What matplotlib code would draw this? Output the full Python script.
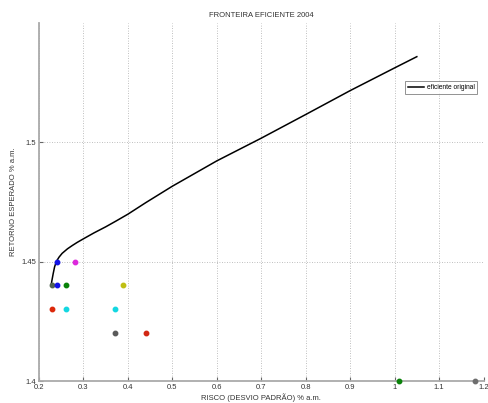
"""Fronteira eficiente 2004 — recreated chart."""
import matplotlib
matplotlib.use("Agg")
from matplotlib import pyplot as plt

# efficient frontier (risk, expected return)
frontier_risk = [0.227, 0.229, 0.232, 0.235, 0.239, 0.245, 0.252, 0.264, 0.275, 0.286,
                 0.300, 0.324, 0.350, 0.373, 0.400, 0.440, 0.500, 0.600, 0.700, 0.800,
                 0.900, 1.000, 1.050]
frontier_ret = [1.4397, 1.4420, 1.4450, 1.4477, 1.4500, 1.4518, 1.4534, 1.4553, 1.4567, 1.4580,
                1.4595, 1.4620, 1.4645, 1.4669, 1.4698, 1.4746, 1.4815, 1.4921, 1.5016, 1.5115,
                1.5215, 1.5310, 1.5357]

# individual assets
asset_risk = [0.24, 0.28, 0.23, 0.24, 0.26, 0.39, 0.23, 0.26, 0.37, 0.37, 0.44, 1.01, 1.18]
asset_ret = [1.45, 1.45, 1.44, 1.44, 1.44, 1.44, 1.43, 1.43, 1.43, 1.42, 1.42, 1.40, 1.40]
asset_colors = ["#1414e6", "#dc28dc", "#506450", "#1414e6", "#0a820a", "#bfbf14",
                "#dc280a", "#14d7e1", "#14d7e1", "#5a5a5a", "#d22814", "#0a820a", "#6e6e6e"]

x_ticks = [0.2, 0.3, 0.4, 0.5, 0.6, 0.7, 0.8, 0.9, 1.0, 1.1, 1.2]
x_labels = ["0.2", "0.3", "0.4", "0.5", "0.6", "0.7", "0.8", "0.9", "1", "1.1", "1.2"]
y_ticks = [1.4, 1.45, 1.5]
y_labels = ["1.4", "1.45", "1.5"]

plt.rcParams["font.family"] = ["Liberation Sans", "DejaVu Sans"]
fig = plt.figure(figsize=(4.88, 4.03), dpi=100)
ax = fig.add_axes([39 / 488, 22 / 403, (483.5 - 39) / 488, (381 - 22.5) / 403])

ax.plot(frontier_risk, frontier_ret, color="black", lw=1.1, label="eficiente original",
        zorder=3, solid_joinstyle="round")
for xr, yr, c in zip(asset_risk, asset_ret, asset_colors):
    ax.plot(xr, yr, "o", color=c, ms=3.2, mec=c, zorder=4, clip_on=False)

ax.set_xlim(0.2, 1.2)
ax.set_ylim(1.4, 1.55)
ax.set_xticks(x_ticks, x_labels)
ax.set_yticks(y_ticks, y_labels)
ax.grid(True, color="#aaaaaa", linestyle=(0, (1, 2)), lw=0.6)
ax.tick_params(direction="in", length=3, labelsize=5.5, color="#666666", labelcolor="#333333", pad=2)
for side in ["top", "right"]:
    ax.spines[side].set_visible(False)
for side in ["left", "bottom"]:
    ax.spines[side].set_color("#aaaaaa")
    ax.spines[side].set_linewidth(1.3)

ax.set_title("FRONTEIRA EFICIENTE 2004", fontsize=5.5, color="#333333", pad=4)
ax.set_xlabel("RISCO (DESVIO PADRÃO) % a.m.", fontsize=5.5, color="#333333", labelpad=2)
ax.set_ylabel("RETORNO ESPERADO % a.m.", fontsize=5.5, color="#333333", labelpad=3)

leg = ax.legend(loc="upper right", bbox_to_anchor=(0.993, 0.845), fontsize=4.8, handlelength=2.4,
                frameon=True, fancybox=False, borderpad=0.4, handletextpad=0.4)
leg.get_frame().set_edgecolor("#777777")
leg.get_frame().set_linewidth(0.7)

fig.savefig("out.png", dpi=100)
plt.close(fig)
